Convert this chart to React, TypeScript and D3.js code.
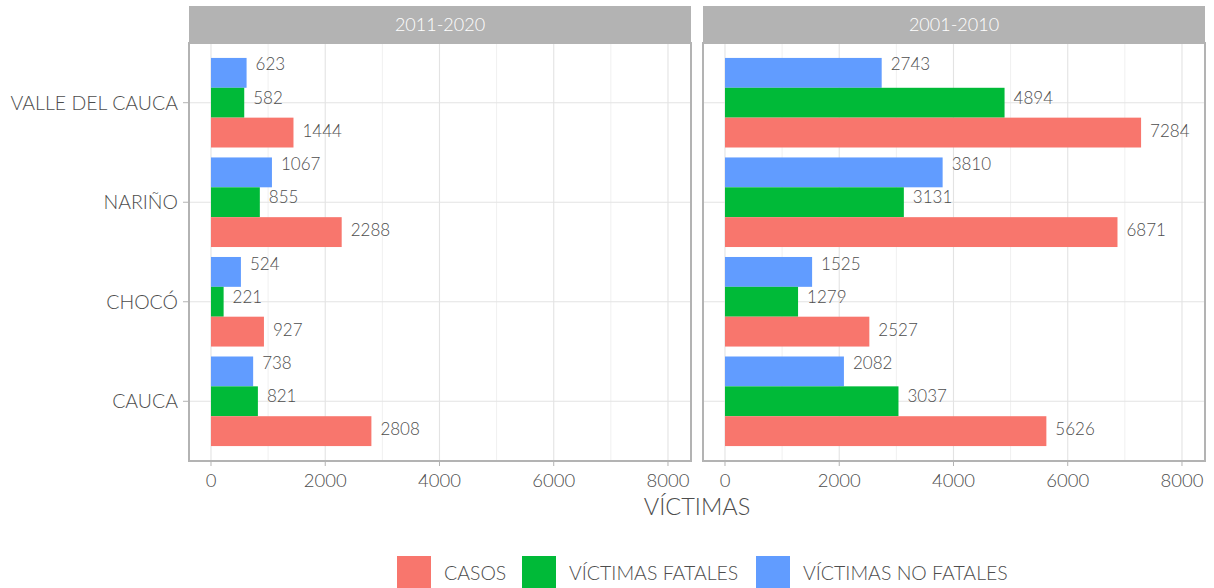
import * as d3 from 'd3';

const categories = ['VALLE DEL CAUCA', 'NARIÑO', 'CHOCÓ', 'CAUCA'];
const periods = ['2011-2020', '2001-2010'];
const seriesNames = ['VÍCTIMAS NO FATALES', 'VÍCTIMAS FATALES', 'CASOS'];
const legendOrder = ['CASOS', 'VÍCTIMAS FATALES', 'VÍCTIMAS NO FATALES'];
const colors: Record<string, string> = {
  CASOS: '#F8766D',
  'VÍCTIMAS FATALES': '#00BA38',
  'VÍCTIMAS NO FATALES': '#619CFF',
};

// values per category, in category order
const casos2011 = [1444, 2288, 927, 2808];
const fatales2011 = [582, 855, 221, 821];
const noFatales2011 = [623, 1067, 524, 738];
const casos2001 = [7284, 6871, 2527, 5626];
const fatales2001 = [4894, 3131, 1279, 3037];
const noFatales2001 = [2743, 3810, 1525, 2082];

const xTicks = [0, 2000, 4000, 6000, 8000];
const xMinor = [1000, 3000, 5000, 7000];

const panelData: Record<string, Record<string, number[]>> = {
  '2011-2020': {
    CASOS: casos2011,
    'VÍCTIMAS FATALES': fatales2011,
    'VÍCTIMAS NO FATALES': noFatales2011,
  },
  '2001-2010': {
    CASOS: casos2001,
    'VÍCTIMAS FATALES': fatales2001,
    'VÍCTIMAS NO FATALES': noFatales2001,
  },
};

const W = 1214;
const H = 588;
const panelTop = 43;
const panelBottom = 461;
const stripTop = 6;
const panelLefts = [189, 703];
const panelWidth = 502;
const textColor = '#4d4d4d';
const font = 'Lato, sans-serif';

const Panel = ({ period, left }: { period: string; left: number }) => {
  const x = d3.scaleLinear().domain([-385, 8403]).range([left, left + panelWidth]);
  const y = d3
    .scalePoint<string>()
    .domain(categories)
    .range([panelTop, panelBottom])
    .padding(0.6);
  const step = y.step();
  const inner = d3
    .scaleBand<string>()
    .domain(seriesNames)
    .range([-step * 0.45, step * 0.45]);
  // labels are dodged a bit wider than the bars
  const labelInner = d3
    .scaleBand<string>()
    .domain(seriesNames)
    .range([-step * 0.5, step * 0.5]);
  const data = panelData[period];

  return (
    <g>
      <rect x={left} y={stripTop} width={panelWidth} height={panelTop - stripTop} fill="#b3b3b3" />
      <text
        x={left + panelWidth / 2}
        y={(stripTop + panelTop) / 2}
        dy="0.35em"
        textAnchor="middle"
        fill="white"
        fontSize={18}
      >
        {period}
      </text>
      <rect x={left} y={panelTop} width={panelWidth} height={panelBottom - panelTop} fill="white" />
      {xMinor.map((t) => (
        <line key={'m' + t} x1={x(t)} x2={x(t)} y1={panelTop} y2={panelBottom} stroke="#f0f0f0" strokeWidth={1} />
      ))}
      {xTicks.map((t) => (
        <line key={'g' + t} x1={x(t)} x2={x(t)} y1={panelTop} y2={panelBottom} stroke="#e3e3e3" strokeWidth={1.1} />
      ))}
      {categories.map((c) => (
        <line key={'h' + c} x1={left} x2={left + panelWidth} y1={y(c)} y2={y(c)} stroke="#e3e3e3" strokeWidth={1.1} />
      ))}
      {categories.map((c, ci) =>
        seriesNames.map((s) => {
          const v = data[s][ci];
          const yc = y(c) ?? 0;
          const y0 = yc + (inner(s) ?? 0);
          const ly = yc + (labelInner(s) ?? 0) + labelInner.bandwidth() / 2 - 5;
          return (
            <g key={c + s}>
              <rect x={x(0)} y={y0} width={x(v) - x(0)} height={inner.bandwidth()} fill={colors[s]} />
              <text x={x(v) + 9} y={ly} dy="0.35em" fill={textColor} fontSize={17}>
                {v}
              </text>
            </g>
          );
        })
      )}
      <rect
        x={left}
        y={panelTop}
        width={panelWidth}
        height={panelBottom - panelTop}
        fill="none"
        stroke="#b3b3b3"
        strokeWidth={2}
      />
      {xTicks.map((t) => (
        <g key={'t' + t}>
          <line x1={x(t)} x2={x(t)} y1={panelBottom + 1} y2={panelBottom + 5} stroke="#b3b3b3" />
          <text x={x(t)} y={487} textAnchor="middle" fill={textColor} fontSize={18.5}>
            {t}
          </text>
        </g>
      ))}
    </g>
  );
};

export default function App() {
  const y = d3
    .scalePoint<string>()
    .domain(categories)
    .range([panelTop, panelBottom])
    .padding(0.6);

  const legendX = [397, 522, 756];
  return (
    <svg
      width={W}
      height={H}
      style={{ position: 'absolute', left: 0, top: 0, fontFamily: font, fontWeight: 300 }}
    >
      <rect width={W} height={H} fill="white" />
      {periods.map((p, i) => (
        <Panel key={p} period={p} left={panelLefts[i]} />
      ))}
      {categories.map((c) => (
        <g key={c}>
          <line x1={183} x2={188} y1={y(c)} y2={y(c)} stroke="#b3b3b3" />
          <text x={178} y={y(c)} dy="0.35em" textAnchor="end" fill={textColor} fontSize={19.5}>
            {c}
          </text>
        </g>
      ))}
      <text x={697} y={515} textAnchor="middle" fill={textColor} fontSize={23.5}>
        VÍCTIMAS
      </text>
      {legendOrder.map((s, i) => (
        <g key={s}>
          <rect x={legendX[i]} y={556} width={34} height={34} fill={colors[s]} />
          <text x={legendX[i] + 47} y={573} dy="0.35em" fill={textColor} fontSize={19.5}>
            {s}
          </text>
        </g>
      ))}
    </svg>
  );
}
